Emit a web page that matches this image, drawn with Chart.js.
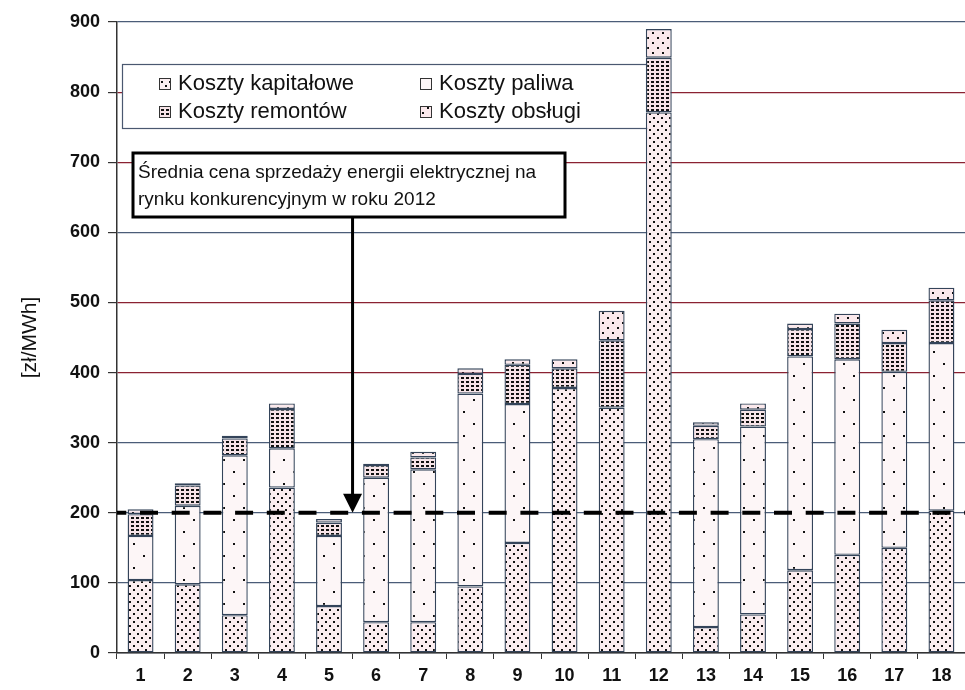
<!DOCTYPE html>
<html>
<head>
<meta charset="utf-8">
<script src="https://cdn.jsdelivr.net/npm/chart.js@4.4.1/dist/chart.umd.min.js"></script>
<style>
  html, body { margin: 0; padding: 0; background: #ffffff; }
  canvas { display: block; }
</style>
</head>
<body>
<canvas id="c" width="965" height="690"></canvas>
<script>
// ---- data ----
const categories = ['1','2','3','4','5','6','7','8','9','10','11','12','13','14','15','16','17','18'];
const kosztyKapitalowe = [104, 98, 54, 236, 67, 44, 44, 95, 157, 378, 350, 771, 37, 55, 118, 140, 150, 203];
const kosztyPaliwa     = [63, 112, 228, 56, 100, 206, 218, 275, 198, 0, 0, 0, 268, 268, 305, 279, 251, 239];
const kosztyRemontow   = [31, 29, 24, 56, 19, 18, 17, 28, 56, 28, 96, 78, 19, 24, 39, 51, 41, 61];
const kosztyObslugi    = [7, 3, 4, 8, 5, 2, 8, 8, 8, 13, 42, 41, 5, 9, 8, 14, 19, 18];
const seriesLabels = ['Koszty kapitałowe', 'Koszty paliwa', 'Koszty remontów', 'Koszty obsługi'];
const yAxisMin = 0, yAxisMax = 900, yAxisStep = 100;
const yAxisTitle = '[zł/MWh]';
const referencePrice = 200;
const annotationLines = ['Średnia cena sprzedaży energii elektrycznej na', 'rynku konkurencyjnym w roku 2012'];

// ---- styling ----
const FONT = '"Liberation Sans", Arial, sans-serif';
const TEXT = '#111111';
const canvas = document.getElementById('c');
const mainCtx = canvas.getContext('2d');

function makePattern(bg, w, h, dots) {
  const c = document.createElement('canvas');
  c.width = w; c.height = h;
  const g = c.getContext('2d');
  g.fillStyle = bg; g.fillRect(0, 0, w, h);
  g.fillStyle = '#111111';
  dots.forEach(d => g.fillRect(d[0], d[1], d[2], d[3]));
  return mainCtx.createPattern(c, 'repeat');
}
const patKap = makePattern('#fbedf0', 8, 8, [[1,1,2,2],[5,5,2,2]]);
const patPal = makePattern('#fdf6f7', 20, 24, [[3,3,2,2],[13,15,2,2]]);
const patRem = makePattern('#f7e4e8', 5, 4, [[1,1,3,2]]);
const patObs = makePattern('#fbe9ec', 10, 10, [[2,2,2,2],[7,7,2,2]]);
const patterns = [patKap, patPal, patRem, patObs];
const BORDER = '#34445a';

function ds(label, data, pat) {
  return {
    label, data, backgroundColor: pat, borderColor: BORDER, borderWidth: 1.4,
    borderSkipped: false, barPercentage: 0.55, categoryPercentage: 1.0
  };
}

const overlayPlugin = {
  id: 'overlay',
  beforeDatasetsDraw(chart) {
    const { ctx, chartArea, scales } = chart;
    // legend box inside plot area (its right end is hidden behind bar 12)
    const left = chartArea.left + 5, top = 64, bottom = 128;
    const right = scales.x.getPixelForValue(11);
    ctx.save();
    ctx.fillStyle = '#ffffff';
    ctx.fillRect(left, top, right - left, bottom - top);
    ctx.strokeStyle = '#4a5870';
    ctx.lineWidth = 1.2;
    ctx.strokeRect(left + 0.5, top + 0.5, right - left, bottom - top);
    const cols = [left + 37, left + 298];
    const rows = [83, 111];
    const order = [[0, 0, 0], [1, 1, 0], [2, 0, 1], [3, 1, 1]];
    ctx.font = '22px ' + FONT;
    ctx.textBaseline = 'middle';
    ctx.textAlign = 'left';
    order.forEach(([i, c, r]) => {
      const x = cols[c], y = rows[r];
      ctx.fillStyle = patterns[i];
      ctx.fillRect(x, y - 5, 11, 11);
      ctx.strokeStyle = '#333';
      ctx.lineWidth = 1;
      ctx.strokeRect(x + 0.5, y - 5 + 0.5, 11, 11);
      ctx.fillStyle = TEXT;
      ctx.fillText(chart.data.datasets[i].label, x + 19, y + 1);
    });
    ctx.restore();
  },
  afterDatasetsDraw(chart) {
    const { ctx, chartArea, scales } = chart;
    const x = scales.x, y = scales.y;
    const yRef = y.getPixelForValue(referencePrice);
    ctx.save();
    // dashed reference line
    ctx.strokeStyle = '#000';
    ctx.lineWidth = 4;
    ctx.setLineDash([18, 13.7]);
    ctx.lineDashOffset = 8.7;
    ctx.beginPath();
    ctx.moveTo(chartArea.left, yRef);
    ctx.lineTo(chartArea.right, yRef);
    ctx.stroke();
    ctx.setLineDash([]);
    // annotation box
    const bx = chartArea.left + 16, by = 153, bw = 432, bh = 64;
    ctx.fillStyle = '#ffffff';
    ctx.fillRect(bx, by, bw, bh);
    ctx.lineWidth = 3;
    ctx.strokeStyle = '#000';
    ctx.strokeRect(bx, by, bw, bh);
    ctx.fillStyle = TEXT;
    ctx.font = '19px ' + FONT;
    ctx.textAlign = 'left';
    ctx.textBaseline = 'middle';
    ctx.fillText(annotationLines[0], bx + 5, by + 20);
    ctx.fillText(annotationLines[1], bx + 5, by + 47);
    // arrow from the box down to the reference line
    const ax = (x.getPixelForValue(4) + x.getPixelForValue(5)) / 2;
    ctx.lineWidth = 3;
    ctx.beginPath();
    ctx.moveTo(ax, by + bh);
    ctx.lineTo(ax, yRef - 16);
    ctx.stroke();
    ctx.beginPath();
    ctx.moveTo(ax - 9.5, yRef - 19);
    ctx.lineTo(ax + 9.5, yRef - 19);
    ctx.lineTo(ax, yRef);
    ctx.closePath();
    ctx.fillStyle = '#000';
    ctx.fill();
    ctx.restore();
  }
};

new Chart(canvas, {
  type: 'bar',
  data: {
    labels: categories,
    datasets: [
      ds(seriesLabels[0], kosztyKapitalowe, patKap),
      ds(seriesLabels[1], kosztyPaliwa, patPal),
      ds(seriesLabels[2], kosztyRemontow, patRem),
      ds(seriesLabels[3], kosztyObslugi, patObs)
    ]
  },
  options: {
    responsive: false,
    animation: false,
    devicePixelRatio: 1,
    layout: { padding: { top: 22, right: 0, bottom: 0, left: 0 } },
    plugins: { legend: { display: false }, tooltip: { enabled: false } },
    scales: {
      x: {
        stacked: true,
        grid: { offset: true, drawOnChartArea: false, tickLength: 6, color: '#333', lineWidth: 1 },
        border: { color: '#333', width: 1.5 },
        ticks: { font: { family: FONT, size: 18, weight: 'bold' }, color: TEXT, padding: 6, maxRotation: 0, autoSkip: false },
        afterFit: s => { s.height = 37; }
      },
      y: {
        stacked: true,
        min: yAxisMin, max: yAxisMax,
        ticks: { stepSize: yAxisStep, font: { family: FONT, size: 18, weight: 'bold' }, color: TEXT, padding: 8 },
        grid: {
          color: c => ([400, 500, 700, 800].includes(c.tick.value) ? '#8a2232' : '#4b5d78'),
          lineWidth: 1.2, tickLength: 9, tickColor: '#333'
        },
        border: { color: '#333', width: 1.5 },
        title: { display: true, text: yAxisTitle, color: TEXT, font: { family: FONT, size: 21 }, padding: { top: 18, bottom: 0 } },
        afterFit: s => { s.width = 117; }
      }
    }
  },
  plugins: [overlayPlugin]
});
</script>
</body>
</html>
